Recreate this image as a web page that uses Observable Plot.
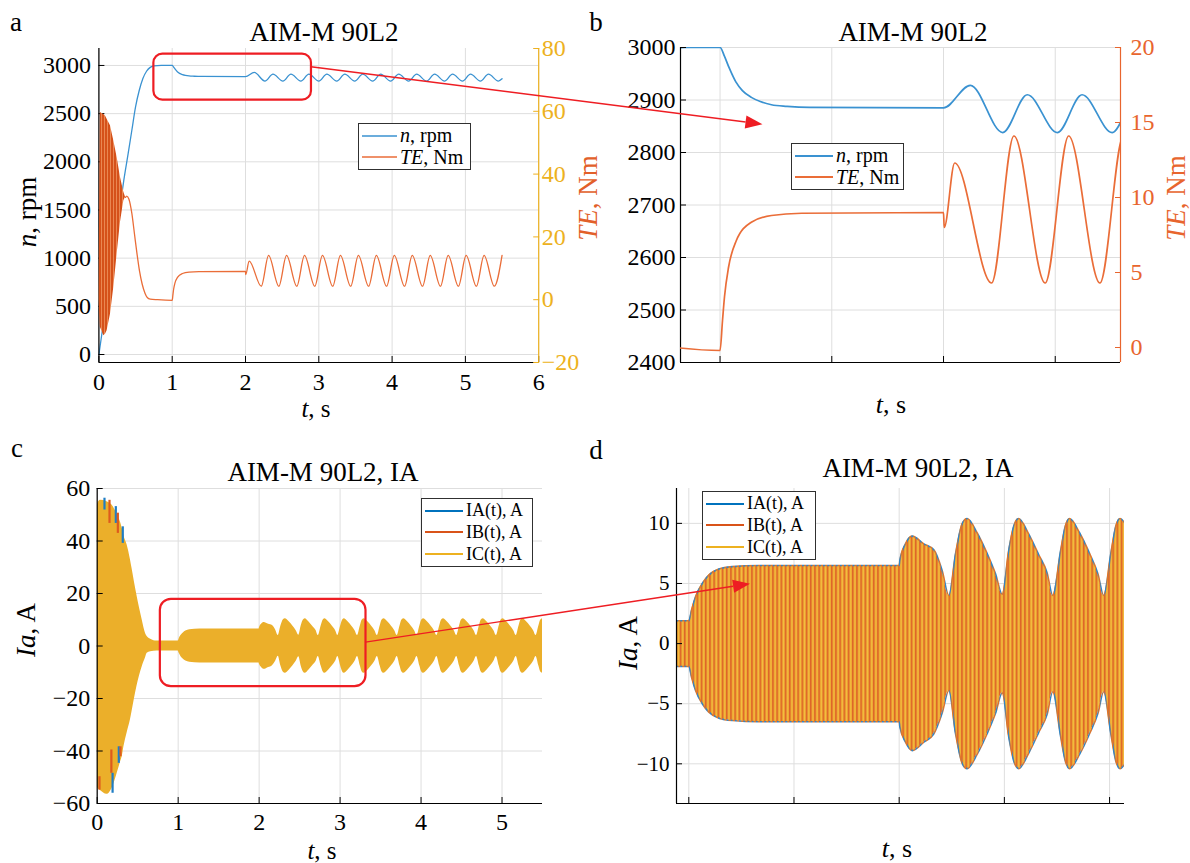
<!DOCTYPE html>
<html><head><meta charset="utf-8">
<script src="https://cdn.jsdelivr.net/npm/d3@7"></script>
<script src="https://cdn.jsdelivr.net/npm/@observablehq/plot@0.6"></script>
<style>
body{margin:0;background:#fff;}
#page{position:relative;width:1190px;height:863px;overflow:hidden;font-family:"Liberation Serif","Times New Roman",serif;color:#000;background:#fff;}
#page svg, #page svg text{font-family:"Liberation Serif","Times New Roman",serif !important;}
.t{position:absolute;white-space:nowrap;line-height:1;transform:translate(-50%,-50%);}
.r{position:absolute;white-space:nowrap;line-height:1;transform:translate(-50%,-50%) rotate(-90deg);}
.lg{position:absolute;background:#fff;border:1.3px solid #303030;box-sizing:border-box;padding:1px 3px;display:flex;flex-direction:column;justify-content:space-around;}
.lg .row{display:flex;align-items:center;white-space:nowrap;line-height:0.95;}
.lg .row svg{margin-right:3px;flex:none;}
</style>
</head><body>
<svg width="0" height="0" style="position:absolute;left:0;top:0">
 <defs>
  <pattern id="dStripes" patternUnits="userSpaceOnUse" width="4.2" height="20">
   <rect x="0" y="0" width="4.2" height="20" fill="#EC9E2E"/>
   <rect x="0" y="0" width="1.4" height="20" fill="#DE6429"/>
   <rect x="2.3" y="0" width="1.3" height="20" fill="#F3BE40"/>
  </pattern>
  <pattern id="dEdge" patternUnits="userSpaceOnUse" width="4.2" height="20">
   <rect x="0" y="0" width="4.2" height="20" fill="#E0752A"/>
   <rect x="0" y="0" width="2.0" height="20" fill="#2F86C8"/>
  </pattern>
  <pattern id="teStripes" patternUnits="userSpaceOnUse" width="3" height="20">
   <rect x="0" y="0" width="3" height="20" fill="#D5511A"/>
   <rect x="2" y="0" width="1" height="20" fill="#EA8752"/>
  </pattern>
 </defs>
</svg>
<div id="page"></div>
<script>
// ---------------- data ----------------
// Panel a/b : speed n(t), rpm
const speedT = [0, 0.05, 0.1, 0.15, 0.2, 0.25, 0.3, 0.34, 0.4, 0.45,
  0.5, 0.55, 0.6, 0.65, 0.7, 0.75, 0.85, 1.0, 1.02, 1.04,
  1.07, 1.1, 1.14, 1.18, 1.23, 1.3, 1.4, 2.0,
  2.12, 2.265, 2.375, 2.51, 2.62, 2.755, 2.865, 3.0, 3.11, 3.245,
  3.355, 3.49, 3.6, 3.735, 3.845, 3.98, 4.09, 4.225, 4.335, 4.47,
  4.58, 4.715, 4.825, 4.96, 5.07, 5.205, 5.315, 5.45, 5.5];
const speedN = [0, 265, 530, 800, 1065, 1330, 1595, 1810, 2090, 2330,
  2570, 2740, 2865, 2940, 2980, 2996, 3000, 3000, 2983, 2962,
  2935, 2918, 2905, 2897, 2891, 2888, 2886, 2885,
  2928, 2838, 2910, 2838, 2910, 2838, 2910, 2838, 2910, 2838,
  2910, 2838, 2910, 2838, 2910, 2838, 2910, 2838, 2910, 2838,
  2910, 2838, 2910, 2838, 2910, 2838, 2910, 2838, 2862];
// Panel a: dense start-up torque band (envelope), Nm
const teBandT  = [0, 0.02, 0.067, 0.09, 0.112, 0.158, 0.203, 0.249, 0.294, 0.34, 0.363];
const teBandHi = [0, 59.6, 59.0, 58.5, 57.5, 55.4, 50.6, 45.3, 39.0, 34.2, 32.6];
const teBandLo = [0, -8.8, -11.5, -11.0, -9.9, -4.6, 3.9, 14.6, 24.6, 31.5, 32.6];
// Panel a/b: torque TE(t), Nm
const teT = [0.363, 0.38, 0.41, 0.45, 0.485, 0.52, 0.555, 0.59, 0.63, 0.66, 0.7, 0.8,
  1.0, 1.011, 1.02, 1.038, 1.072, 1.14, 1.23, 1.365,
  2.0, 2.003, 2.05,
  2.215, 2.315, 2.455, 2.56, 2.70, 2.805, 2.945, 3.05, 3.19, 3.295,
  3.435, 3.54, 3.68, 3.785, 3.925, 4.03, 4.17, 4.275, 4.415, 4.52,
  4.66, 4.765, 4.905, 5.01, 5.15, 5.255, 5.395, 5.5];
const teV = [32.6, 33.0, 32.0, 27.4, 21.0, 14.6, 9.0, 5.0, 2.0, 0.7, 0.2, 0.0,
  -0.2, 1.8, 3.4, 5.35, 7.1, 8.35, 8.8, 8.95,
  9.0, 8.0, 12.3,
  4.3, 14.1, 4.3, 14.1, 4.3, 14.1, 4.3, 14.1, 4.3, 14.1,
  4.3, 14.1, 4.3, 14.1, 4.3, 14.1, 4.3, 14.1, 4.3, 14.1,
  4.3, 14.1, 4.3, 14.1, 4.3, 14.1, 4.3, 14.1];
// Panel c/d: phase-current envelope (upper / lower), A
const curT = [0, 0.004, 0.04, 0.12, 0.2, 0.247, 0.29, 0.31, 0.33, 0.37,
  0.41, 0.43, 0.49, 0.556, 0.597, 0.617, 0.66, 0.74, 1.0, 1.013,
  1.032, 1.064, 1.095, 1.143, 1.206, 1.333, 2.0,
  2.003, 2.03, 2.062, 2.117, 2.165, 2.204, 2.236, 2.268, 2.30, 2.323,
  2.371, 2.418, 2.458, 2.49, 2.52, 2.545, 2.568,
  2.616, 2.663, 2.703, 2.73, 2.767, 2.79, 2.81,
  2.858, 2.905, 2.945, 2.972, 3.006, 3.03, 3.05,
  3.098, 3.145, 3.185, 3.215, 3.25, 3.272, 3.295,
  3.343, 3.39, 3.43, 3.46, 3.495, 3.517, 3.54,
  3.588, 3.635, 3.675, 3.705, 3.74, 3.762, 3.785,
  3.833, 3.88, 3.92, 3.95, 3.985, 4.007, 4.03,
  4.078, 4.125, 4.165, 4.195, 4.23, 4.252, 4.275,
  4.323, 4.37, 4.41, 4.44, 4.475, 4.497, 4.52,
  4.568, 4.615, 4.655, 4.685, 4.72, 4.742, 4.765,
  4.813, 4.86, 4.9, 4.93, 4.965, 4.987, 5.01,
  5.058, 5.105, 5.145, 5.175, 5.21, 5.232, 5.255,
  5.303, 5.35, 5.39, 5.42, 5.455, 5.477, 5.5];
const curHi = [0, 54, 55.5, 55, 53, 50, 47, 44.8, 42, 38.5,
  33, 29.6, 19.4, 9.9, 4.8, 3.6, 2.6, 1.9, 1.9, 2.8,
  3.9, 5.0, 5.7, 6.2, 6.4, 6.5, 6.5,
  6.9, 8.3, 8.94, 8.3, 7.8, 6.1, 4.0, 7.5, 10.0, 10.4,
  9.2, 7.5, 5.8, 4.1, 7.7, 9.8, 10.4,
  9.1, 7.4, 5.9, 4.0, 7.7, 9.8, 10.4,
  9.2, 7.5, 5.8, 4.0, 7.5, 9.8, 10.4,
  9.2, 7.5, 5.8, 4.0, 7.6, 9.8, 10.4,
  9.2, 7.5, 5.8, 4.0, 7.6, 9.8, 10.4,
  9.2, 7.5, 5.8, 4.0, 7.6, 9.8, 10.4,
  9.2, 7.5, 5.8, 4.0, 7.6, 9.8, 10.4,
  9.2, 7.5, 5.8, 4.0, 7.6, 9.8, 10.4,
  9.2, 7.5, 5.8, 4.0, 7.6, 9.8, 10.4,
  9.2, 7.5, 5.8, 4.0, 7.6, 9.8, 10.4,
  9.2, 7.5, 5.8, 4.0, 7.6, 9.8, 10.4,
  9.2, 7.5, 5.8, 4.0, 7.6, 9.8, 10.4,
  9.2, 7.5, 5.8, 4.0, 7.6, 9.8, 10.4];
const curLo = [0, -54, -55, -56.5, -53, -48.5, -44, -42, -38.4, -33,
  -28.2, -25, -15.5, -7.9, -4.5, -2.8, -2.2, -1.9, -1.9, -2.8,
  -3.9, -5.0, -5.7, -6.2, -6.4, -6.5, -6.5,
  -6.9, -8.2, -8.9, -8.2, -7.5, -5.8, -3.9, -7.5, -10.0, -10.4,
  -9.2, -7.5, -5.8, -4.1, -7.7, -9.8, -10.4,
  -9.1, -7.4, -5.9, -4.0, -7.7, -9.8, -10.4,
  -9.2, -7.5, -5.8, -4.0, -7.5, -9.8, -10.4,
  -9.2, -7.5, -5.8, -4.0, -7.6, -9.8, -10.4,
  -9.2, -7.5, -5.8, -4.0, -7.6, -9.8, -10.4,
  -9.2, -7.5, -5.8, -4.0, -7.6, -9.8, -10.4,
  -9.2, -7.5, -5.8, -4.0, -7.6, -9.8, -10.4,
  -9.2, -7.5, -5.8, -4.0, -7.6, -9.8, -10.4,
  -9.2, -7.5, -5.8, -4.0, -7.6, -9.8, -10.4,
  -9.2, -7.5, -5.8, -4.0, -7.6, -9.8, -10.4,
  -9.2, -7.5, -5.8, -4.0, -7.6, -9.8, -10.4,
  -9.2, -7.5, -5.8, -4.0, -7.6, -9.8, -10.4,
  -9.2, -7.5, -5.8, -4.0, -7.6, -9.8, -10.4];
// Panel c: start-up peaks of IA / IB showing beyond IC
const spikeT  = [0.09, 0.152, 0.23, 0.255, 0.316, 0.028, 0.175, 0.19, 0.267, 0.288];
const spikeY1 = [51.8, 46.7, 46.7, 42.9, 39.1, -49.8, -39.6, -48.5, -38.4, -38.4];
const spikeY2 = [56.3, 55.5, 53.1, 50.6, 45.4, -54.9, -48.5, -56.1, -44.7, -42.2];
const spikePhase = ["IA", "IB", "IA", "IB", "IA", "IB", "IB", "IA", "IA", "IB"];

// tick values
const ticksAx = [0, 1, 2, 3, 4, 5, 6];
const ticksAn = [0, 500, 1000, 1500, 2000, 2500, 3000];
const ticksAte = [-20, 0, 20, 40, 60, 80];
const ticksBx = [1, 1.5, 2, 2.5];
const ticksBn = [2400, 2500, 2600, 2700, 2800, 2900, 3000];
const ticksBte = [0, 5, 10, 15, 20];
const ticksCx = [0, 1, 2, 3, 4, 5];
const ticksCi = [-60, -40, -20, 0, 20, 40, 60];
const ticksDx = [1, 1.5, 2, 2.5, 3];
const ticksDi = [-10, -5, 0, 5, 10];

// zoom annotations (data units)
const zoomBoxA = [{t1: 0.75, t2: 2.9, v1: 2640, v2: 3118}];
const zoomBoxC = [{t1: 0.78, t2: 3.32, v1: -15.5, v2: 17.8}];
const arrowAB = {fromT: 2.9, fromV: 2982, toT: 1.192, toV: 2853};
const arrowCD = {fromT: 3.32, fromV: 1.3, toT: 1.293, toV: 4.94};

// ---------------- tables ----------------
const speed = speedT.map((t, i) => ({t, v: speedN[i]}));
const teBand = teBandT.map((t, i) => ({t, hi: teBandHi[i], lo: teBandLo[i]}));
const te = teT.map((t, i) => ({t, v: teV[i]}));
const cur = curT.map((t, i) => ({t, hi: curHi[i], lo: curLo[i]}));
const spikes = spikeT.map((t, i) => ({t, y1: spikeY1[i], y2: spikeY2[i], phase: spikePhase[i]}));

// ---------------- layout ----------------
const FONT = '"Liberation Serif","Times New Roman",serif';
const page = document.getElementById("page");
const GRID = {stroke: "#dedede", strokeOpacity: 1, strokeWidth: 1};
const RED = "#EE1D23";
const BLUE = "#3A92D1", ORANGE = "#EA6D38";
const YELLOW_AX = "#EDB120", ORANGE_AX = "#E8652E";
const PHASE = {IA: "#1F7DC4", IB: "#DD5A1E"};
const fmt = d => (d < 0 ? "\u2212" : "") + Math.abs(d);

const boxes = {
  a: {left: 0, top: 40, w: 600, h: 380, x0: 98.4, x1: 538.2, y0: 48, y1: 362},
  b: {left: 600, top: 40, w: 590, h: 380, x0: 680, x1: 1120, y0: 47, y1: 362},
  c: {left: 0, top: 470, w: 600, h: 393, x0: 96.7, x1: 542, y0: 488, y1: 803},
  d: {left: 600, top: 470, w: 590, h: 393, x0: 676, x1: 1124, y0: 488, y1: 803}
};
const domains = {
  a: {x: [0, 6], y: [-83, 3176], y2: [-20, 80]},
  b: {x: [0.823, 2.792], y: [2400, 3000], y2: [-1, 20]},
  c: {x: [0, 5.5], y: [-60, 60]},
  d: {x: [0.9415, 3.071], y: [-13.3, 12.9]}
};

function mkPlot(key, yDom, fontSize, color, marks, hideX) {
  const b = boxes[key];
  const p = Plot.plot({
    width: b.w, height: b.h,
    marginLeft: b.x0 - b.left, marginRight: b.left + b.w - b.x1,
    marginTop: b.y0 - b.top, marginBottom: b.top + b.h - b.y1,
    style: {fontFamily: FONT, fontSize: fontSize + "px", background: "transparent", color, overflow: "visible"},
    x: hideX ? {domain: domains[key].x, axis: null} : {domain: domains[key].x},
    y: {domain: yDom},
    marks
  });
  p.style.position = "absolute";
  p.style.left = b.left + "px";
  p.style.top = b.top + "px";
  page.appendChild(p);
  return p;
}
const TS = -6; // inward ticks

// ---- panel a (left: speed) ----
const pa = mkPlot("a", domains.a.y, 24, "#000", [
  Plot.gridX({ticks: ticksAx, ...GRID}),
  Plot.gridY({ticks: ticksAn, ...GRID}),
  Plot.line(speed, {x: "t", y: "v", stroke: BLUE, strokeWidth: 1.3, curve: "monotone-x", clip: true}),
  Plot.rect(zoomBoxA, {x1: "t1", x2: "t2", y1: "v1", y2: "v2", fill: "none", stroke: RED, strokeWidth: 2.2, rx: 9}),
  Plot.ruleX([domains.a.x[0]], {stroke: "#000", strokeWidth: 1.2}),
  Plot.ruleY([domains.a.y[0]], {stroke: "#000", strokeWidth: 1.2}),
  Plot.axisY({ticks: ticksAn, tickSize: TS, tickPadding: 8 - TS, tickFormat: fmt, label: null}),
  Plot.axisX({ticks: ticksAx, tickSize: TS, tickPadding: 10 - TS, tickFormat: fmt, label: null})
]);
// ---- panel a (right: torque) ----
mkPlot("a", domains.a.y2, 24, YELLOW_AX, [
  Plot.areaY(teBand, {x: "t", y1: "lo", y2: "hi", fill: "url(#teStripes)", clip: true}),
  Plot.line(te, {x: "t", y: "v", stroke: ORANGE, strokeWidth: 1.3, curve: "monotone-x", clip: true}),
  Plot.ruleX([domains.a.x[1]], {stroke: YELLOW_AX, strokeWidth: 1.2}),
  Plot.axisY({anchor: "right", ticks: ticksAte, tickSize: TS, tickPadding: 3 - TS, tickFormat: fmt, label: null})
], true);

// ---- panel b ----
const pb = mkPlot("b", domains.b.y, 24, "#000", [
  Plot.gridX({ticks: ticksBx, ...GRID}),
  Plot.gridY({ticks: ticksBn, ...GRID}),
  Plot.line(speed, {x: "t", y: "v", stroke: BLUE, strokeWidth: 1.7, curve: "monotone-x", clip: true}),
  Plot.ruleX([domains.b.x[0]], {stroke: "#000", strokeWidth: 1.2}),
  Plot.ruleY([domains.b.y[0]], {stroke: "#000", strokeWidth: 1.2}),
  Plot.axisY({ticks: ticksBn, tickSize: TS, tickPadding: 5 - TS, tickFormat: fmt, label: null}),
  Plot.axisX({ticks: ticksBx, tickSize: TS, tickFormat: () => "", label: null})
]);
mkPlot("b", domains.b.y2, 24, ORANGE_AX, [
  Plot.line(te, {x: "t", y: "v", stroke: ORANGE, strokeWidth: 1.7, curve: "monotone-x", clip: true}),
  Plot.ruleX([domains.b.x[1]], {stroke: ORANGE_AX, strokeWidth: 1.2}),
  Plot.axisY({anchor: "right", ticks: ticksBte, tickSize: TS, tickPadding: 10 - TS, tickFormat: fmt, label: null})
], true);

// ---- panel c ----
const pc = mkPlot("c", domains.c.y, 24, "#000", [
  Plot.gridX({ticks: ticksCx, ...GRID}),
  Plot.gridY({ticks: ticksCi, ...GRID}),
  Plot.areaY(cur, {x: "t", y1: "lo", y2: "hi", fill: "#EBAF2A", curve: "monotone-x", clip: true}),
  Plot.ruleX(spikes, {x: "t", y1: "y1", y2: "y2", stroke: d => PHASE[d.phase], strokeWidth: 2.2}),
  Plot.rect(zoomBoxC, {x1: "t1", x2: "t2", y1: "v1", y2: "v2", fill: "none", stroke: RED, strokeWidth: 2.2, rx: 11}),
  Plot.ruleX([domains.c.x[0]], {stroke: "#000", strokeWidth: 1.2}),
  Plot.ruleY([domains.c.y[0]], {stroke: "#000", strokeWidth: 1.2}),
  Plot.axisY({ticks: ticksCi, tickSize: TS, tickPadding: 7 - TS, tickFormat: fmt, label: null}),
  Plot.axisX({ticks: ticksCx, tickSize: TS, tickPadding: 9 - TS, tickFormat: fmt, label: null})
]);

// ---- panel d ----
const pd = mkPlot("d", domains.d.y, 21, "#000", [
  Plot.gridX({ticks: ticksDx, ...GRID}),
  Plot.gridY({ticks: ticksDi, ...GRID}),
  Plot.areaY(cur, {x: "t", y1: "lo", y2: "hi", fill: "url(#dStripes)", curve: "monotone-x", clip: true}),
  Plot.line(cur, {x: "t", y: "hi", stroke: "url(#dEdge)", strokeWidth: 1.6, curve: "monotone-x", clip: true}),
  Plot.line(cur, {x: "t", y: "lo", stroke: "url(#dEdge)", strokeWidth: 1.6, curve: "monotone-x", clip: true}),
  Plot.ruleX([domains.d.x[0]], {stroke: "#000", strokeWidth: 1.2}),
  Plot.ruleY([domains.d.y[0]], {stroke: "#000", strokeWidth: 1.2}),
  Plot.axisY({ticks: ticksDi, tickSize: TS, tickPadding: 7 - TS, tickFormat: fmt, label: null}),
  Plot.axisX({ticks: ticksDx, tickSize: TS, tickFormat: () => "", label: null})
]);

// ---------------- text ----------------
function txt(html, x, y, size, opts = {}) {
  const d = document.createElement("div");
  d.className = opts.rot ? "r" : "t";
  d.innerHTML = html;
  d.style.left = x + "px"; d.style.top = y + "px";
  d.style.fontSize = size + "px";
  if (opts.color) d.style.color = opts.color;
  page.appendChild(d);
}
txt("a", 16, 22, 27); txt("b", 596, 22, 27); txt("c", 17, 448, 27); txt("d", 596, 450, 27);
txt("AIM-M 90L2", 324, 32, 27);
txt("AIM-M 90L2", 913, 32, 27);
txt("AIM-M 90L2, IA", 323, 472, 27);
txt("AIM-M 90L2, IA", 918, 468, 27);
txt("<i>t</i>, s", 316, 408, 25);
txt("<i>t</i>, s", 891, 405, 26);
txt("<i>t</i>, s", 322, 850, 25);
txt("<i>t</i>, s", 897, 849, 26);
txt("<i>n</i>, rpm", 27, 212, 27, {rot: true});
txt("<i>TE</i>, Nm", 588, 198, 27, {rot: true, color: "#E2602A"});
txt("<i>TE</i>, Nm", 1176, 198, 27, {rot: true, color: ORANGE_AX});
txt("<i>Ia</i>, A", 26, 630, 27, {rot: true});
txt("<i>Ia</i>, A", 628, 643, 27, {rot: true});

// ---------------- legends ----------------
function legend(x, y, w, h, size, sw, rows) {
  const d = document.createElement("div");
  d.className = "lg";
  Object.assign(d.style, {left: x + "px", top: y + "px", width: w + "px", height: h + "px", fontSize: size + "px"});
  for (const r of rows) {
    const row = document.createElement("div");
    row.className = "row";
    row.innerHTML = `<svg width="${sw}" height="6"><line x1="0" x2="${sw}" y1="3" y2="3" stroke="${r.color}" stroke-width="${r.w}"/></svg><span>${r.html}</span>`;
    d.appendChild(row);
  }
  page.appendChild(d);
}
legend(358, 123, 113, 47, 20, 35, [{color: BLUE, w: 1.4, html: "<i>n</i>, rpm"}, {color: ORANGE, w: 1.4, html: "<i>TE</i>, Nm"}]);
legend(791, 143, 113, 47, 20, 38, [{color: BLUE, w: 1.8, html: "<i>n</i>, rpm"}, {color: ORANGE, w: 1.8, html: "<i>TE</i>, Nm"}]);
legend(421, 498, 112, 69, 18, 38, [{color: "#0072BD", w: 2, html: "IA(t), A"}, {color: "#D95319", w: 2, html: "IB(t), A"}, {color: "#EDB120", w: 2, html: "IC(t), A"}]);
legend(702, 491, 114, 69, 18, 38, [{color: "#0072BD", w: 2, html: "IA(t), A"}, {color: "#D95319", w: 2, html: "IB(t), A"}, {color: "#EDB120", w: 2, html: "IC(t), A"}]);

// ---------------- zoom arrows (from scales) ----------------
const NS = "http://www.w3.org/2000/svg";
const ov = document.createElementNS(NS, "svg");
ov.setAttribute("width", 1190); ov.setAttribute("height", 863);
Object.assign(ov.style, {position: "absolute", left: "0px", top: "0px", pointerEvents: "none"});
page.appendChild(ov);
function px(plot, key, t, v) {
  return [boxes[key].left + plot.scale("x").apply(t), boxes[key].top + plot.scale("y").apply(v)];
}
function arrow(p1, p2) {
  const [x1, y1] = p1, [x2, y2] = p2;
  const a = Math.atan2(y2 - y1, x2 - x1), L = 17, W = 6.5;
  const bx = x2 - L * Math.cos(a), by = y2 - L * Math.sin(a);
  const ln = document.createElementNS(NS, "line");
  ln.setAttribute("x1", x1); ln.setAttribute("y1", y1); ln.setAttribute("x2", bx); ln.setAttribute("y2", by);
  ln.setAttribute("stroke", RED); ln.setAttribute("stroke-width", 1.4);
  ov.appendChild(ln);
  const pg = document.createElementNS(NS, "polygon");
  const pts = [[x2, y2], [bx + W * Math.sin(a), by - W * Math.cos(a)], [bx - W * Math.sin(a), by + W * Math.cos(a)]];
  pg.setAttribute("points", pts.map(p => p.join(",")).join(" "));
  pg.setAttribute("fill", RED);
  ov.appendChild(pg);
}
arrow(px(pa, "a", arrowAB.fromT, arrowAB.fromV), px(pb, "b", arrowAB.toT, arrowAB.toV));
arrow(px(pc, "c", arrowCD.fromT, arrowCD.fromV), px(pd, "d", arrowCD.toT, arrowCD.toV));
</script>
</body></html>
